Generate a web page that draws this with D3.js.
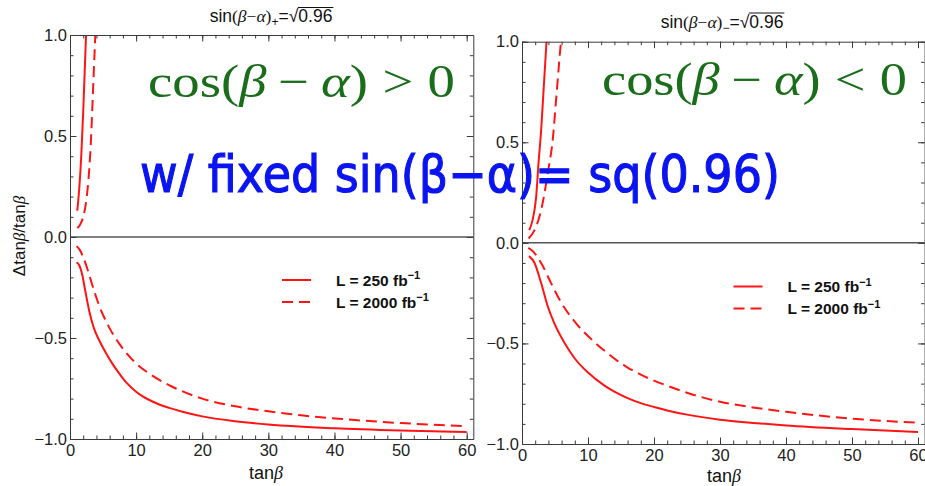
<!DOCTYPE html>
<html>
<head>
<meta charset="utf-8">
<script src="https://cdn.jsdelivr.net/npm/d3@7"></script>
<style>
  html, body { margin: 0; padding: 0; background: #fff; }
  svg { display: block; }
</style>
</head>
<body>
<svg id="chart" width="925" height="486"></svg>
<script>
// ---- data -------------------------------------------------------------
const tanBetaTicks = [0, 10, 20, 30, 40, 50, 60];
const tanBetaMinor = d3.range(0, 62, 2);
const ratioTicks = [-1, -0.5, 0, 0.5, 1];
const ratioMinor = d3.range(-10, 11).map(v => v / 10);
const legendLabels = ["L = 250 fb", "L = 2000 fb"];

// cos(β−α) > 0 : [tanβ, Δtanβ/tanβ]
const posUpper250 = [[1.1, 0.13], [1.4, 0.24], [1.7, 0.4], [2.0, 0.62], [2.2, 0.8], [2.45, 1.02]];
const posUpper2000 = [[1.1, 0.045], [1.5, 0.06], [2.0, 0.1], [2.5, 0.19], [2.9, 0.33], [3.2, 0.5], [3.45, 0.7], [3.7, 0.9], [3.85, 1.02]];
const posLower250 = [[1.0, -0.125], [1.4, -0.14], [1.8, -0.18], [2.3, -0.265], [2.9, -0.365], [3.6, -0.45], [4.4, -0.51], [5.5, -0.578], [6.5, -0.632], [7.5, -0.678], [8.5, -0.72], [10, -0.766], [11, -0.789], [12, -0.807], [13.5, -0.829], [15, -0.846], [17, -0.865], [20, -0.888], [25, -0.912], [30, -0.928], [40, -0.947], [50, -0.958], [60, -0.965]];
const posLower2000 = [[1.0, -0.045], [1.5, -0.065], [2.0, -0.1], [2.6, -0.155], [3.3, -0.23], [4.3, -0.33], [5.8, -0.44], [7.5, -0.53], [9.8, -0.62], [12.4, -0.685], [15.4, -0.74], [20, -0.80], [25, -0.838], [30, -0.863], [35, -0.883], [40, -0.898], [50, -0.921], [60, -0.936]];

// cos(β−α) < 0
const negUpper250 = [[1.1, 0.063], [1.6, 0.113], [2.15, 0.23], [2.5, 0.395], [2.9, 0.56], [3.3, 0.776], [3.75, 1.02]];
const negUpper2000 = [[1.0, 0.022], [1.9, 0.063], [2.9, 0.163], [3.9, 0.345], [4.7, 0.527], [5.2, 0.726], [5.7, 0.925], [5.95, 1.02]];
const negLower250 = [[1.05, -0.066], [1.9, -0.1], [2.9, -0.2], [3.9, -0.315], [4.9, -0.40], [6.5, -0.50], [8, -0.575], [10, -0.645], [12.5, -0.71], [14, -0.74], [16, -0.772], [18, -0.797], [20, -0.816], [22, -0.833], [25, -0.854], [30, -0.879], [35, -0.895], [40, -0.908], [50, -0.926], [60, -0.94]];
const negLower2000 = [[0.95, -0.025], [1.6, -0.04], [2.9, -0.1], [4.4, -0.2], [6, -0.30], [8.2, -0.40], [11.2, -0.50], [13, -0.55], [14.5, -0.588], [16, -0.62], [18, -0.655], [20, -0.685], [22, -0.71], [25, -0.745], [30, -0.79], [35, -0.818], [40, -0.84], [50, -0.874], [60, -0.894]];

// ---- styles -----------------------------------------------------------
const SANS = "'Liberation Sans', Arial, Helvetica, sans-serif";
const SERIF = "'Liberation Serif', 'Times New Roman', serif";
const RED = "#ff1414";
const FRAME = "#3a3a3a";
const DASH = "11,6";

const svg = d3.select("#chart");

// ---- one framed panel ---------------------------------------------------
function drawPanel(cfg) {
  const x = d3.scaleLinear().domain([0, 61]).range([cfg.left, cfg.right]);
  const y = d3.scaleLinear().domain([-1, 1]).range([cfg.bottom, cfg.top]);
  const g = svg.append("g").attr("class", cfg.id);

  const clipId = "clip-" + cfg.id;
  svg.append("defs").append("clipPath").attr("id", clipId)
    .append("rect")
    .attr("x", cfg.left).attr("y", cfg.top)
    .attr("width", cfg.right - cfg.left).attr("height", cfg.bottom - cfg.top);

  // zero line
  g.append("line")
    .attr("x1", cfg.left).attr("x2", cfg.right)
    .attr("y1", y(0)).attr("y2", y(0))
    .attr("stroke", "#000").attr("stroke-width", 1);

  // curves
  const line = d3.line().x(d => x(d[0])).y(d => y(d[1])).curve(d3.curveMonotoneX);
  const curves = g.append("g").attr("clip-path", `url(#${clipId})`);
  cfg.series.forEach(s => {
    curves.append("path")
      .attr("d", line(s.values))
      .attr("fill", "none")
      .attr("stroke", RED)
      .attr("stroke-width", 2)
      .attr("stroke-dasharray", s.dashed ? DASH : null);
  });

  // frame with inward ticks on all four sides
  const makers = [d3.axisBottom, d3.axisTop, d3.axisLeft, d3.axisRight];
  const shifts = [`translate(0,${cfg.bottom})`, `translate(0,${cfg.top})`,
                  `translate(${cfg.left},0)`, `translate(${cfg.right},0)`];
  makers.forEach((make, i) => {
    const isX = i < 2;
    const scale = isX ? x : y;
    const labels = i === 0 || i === 2;

    const minorGen = make(scale)
      .tickValues(isX ? tanBetaMinor : ratioMinor)
      .tickSize(-3.5).tickSizeOuter(0).tickFormat("");
    g.append("g").attr("transform", shifts[i]).call(minorGen)
      .call(s => s.select(".domain").remove())
      .call(s => s.selectAll("line").attr("stroke", FRAME));

    const major = make(scale)
      .tickValues(isX ? tanBetaTicks : ratioTicks)
      .tickSize(-6.5).tickSizeOuter(0)
      .tickPadding(isX ? 5 : 3)
      .tickFormat(labels ? (isX ? d3.format("d") : d3.format(".1f")) : "");
    const ag = g.append("g").attr("transform", shifts[i]).call(major);
    ag.select(".domain").attr("stroke", FRAME).attr("stroke-width", 1);
    ag.selectAll("line").attr("stroke", FRAME);
    ag.selectAll("text")
      .attr("fill", "#222")
      .style("font-family", SANS)
      .style("font-size", "16.5px");
  });

  // legend
  cfg.series.slice(0, 2).forEach((s, i) => {
    const ly = cfg.legendY + i * 22;
    g.append("line")
      .attr("x1", cfg.legendX).attr("x2", cfg.legendX + 29)
      .attr("y1", ly).attr("y2", ly)
      .attr("stroke", RED).attr("stroke-width", 2)
      .attr("stroke-dasharray", s.dashed ? DASH : null);
    const t = g.append("text")
      .attr("x", cfg.legendX + 54).attr("y", ly + 5.5)
      .style("font-family", SANS).style("font-size", "15.5px").style("font-weight", "bold")
      .attr("fill", "#111");
    t.append("tspan").text(legendLabels[i]);
    t.append("tspan").attr("dy", -6.5).style("font-size", "11px").text("−1");
  });

  // title  sin(β−α)± = √0.96
  const fs = 17.5;
  const tg = svg.append("g");
  const t1 = tg.append("text").attr("x", 0).attr("y", 0)
    .style("font-family", SANS).style("font-size", fs + "px").attr("fill", "#111");
  t1.append("tspan").text("sin");
  t1.append("tspan").style("font-family", SERIF).text("(");
  t1.append("tspan").style("font-family", SERIF).style("font-style", "italic").text("β");
  t1.append("tspan").style("font-family", SERIF).text("−");
  t1.append("tspan").style("font-family", SERIF).style("font-style", "italic").text("α");
  t1.append("tspan").style("font-family", SERIF).text(")");
  t1.append("tspan").attr("dy", 4).style("font-size", "12px").text(cfg.sign);
  t1.append("tspan").attr("dy", -4).text("=");
  const w1 = t1.node().getComputedTextLength();
  const t2 = tg.append("text").attr("x", w1).attr("y", 0)
    .style("font-family", SANS).style("font-size", fs + "px").attr("fill", "#111").text("√");
  const w2 = t2.node().getComputedTextLength();
  const t3 = tg.append("text").attr("x", w1 + w2).attr("y", 0)
    .style("font-family", SANS).style("font-size", fs + "px").attr("fill", "#111").text("0.96");
  const w3 = t3.node().getComputedTextLength();
  tg.append("line")
    .attr("x1", w1 + w2 - 0.5).attr("x2", w1 + w2 + w3 + 1)
    .attr("y1", -14.5).attr("y2", -14.5)
    .attr("stroke", "#111").attr("stroke-width", 1);
  const total = w1 + w2 + w3;
  tg.attr("transform", `translate(${cfg.titleX - total / 2},${cfg.titleY})`);

  // x axis title
  const xt = svg.append("text")
    .attr("x", cfg.xTitleX).attr("y", cfg.xTitleY)
    .attr("text-anchor", "middle")
    .style("font-family", SANS).style("font-size", "18px").attr("fill", "#111");
  xt.append("tspan").text("tan");
  xt.append("tspan").style("font-family", SERIF).style("font-style", "italic").text("β");

  return { x, y };
}

drawPanel({
  id: "pos", left: 70, right: 473.3, top: 35, bottom: 439,
  sign: "+", titleX: 271, titleY: 22, xTitleX: 266, xTitleY: 479,
  legendX: 282, legendY: 280,
  series: [
    { values: posLower250, dashed: false },
    { values: posLower2000, dashed: true },
    { values: posUpper250, dashed: false },
    { values: posUpper2000, dashed: true }
  ]
});

drawPanel({
  id: "neg", left: 522, right: 924.6, top: 41.7, bottom: 444,
  sign: "−", titleX: 722, titleY: 27.5, xTitleX: 724, xTitleY: 482,
  legendX: 733.5, legendY: 286.5,
  series: [
    { values: negLower250, dashed: false },
    { values: negLower2000, dashed: true },
    { values: negUpper250, dashed: false },
    { values: negUpper2000, dashed: true }
  ]
});

// y axis title (left panel only)
const yt = svg.append("text")
  .attr("transform", "translate(25,236) rotate(-90)")
  .attr("text-anchor", "middle")
  .style("font-family", SANS).style("font-size", "17px").attr("fill", "#111");
yt.append("tspan").text("Δtan");
yt.append("tspan").style("font-family", SERIF).style("font-style", "italic").text("β");
yt.append("tspan").text("/tan");
yt.append("tspan").style("font-family", SERIF).style("font-style", "italic").text("β");

// ---- annotations --------------------------------------------------------
function mathLabel(x0, baseline, targetWidth, rel) {
  const t = svg.append("text").attr("x", 0).attr("y", 0)
    .style("font-family", SERIF).style("font-size", "46px").attr("fill", "#1a6d1a");
  const parts = [
    { s: "cos(", it: false, gap: 0 },
    { s: "β", it: true, gap: 0 },
    { s: "−", it: false, gap: 10 },
    { s: "α", it: true, gap: 10 },
    { s: ")", it: false, gap: 0 },
    { s: rel, it: false, gap: 12 },
    { s: "0", it: false, gap: 12 }
  ];
  parts.forEach(p => t.append("tspan")
    .attr("dx", p.gap || null)
    .style("font-style", p.it ? "italic" : "normal").text(p.s));
  const bb = t.node().getBBox();
  const sx = targetWidth / bb.width;
  t.attr("transform", `translate(${x0 - bb.x * sx},${baseline}) scale(${sx},1)`);
}
mathLabel(148, 96.5, 307, ">");
mathLabel(602, 95, 305, "<");

const blue = svg.append("text")
  .attr("x", 0).attr("y", 0)
  .style("font-family", "'DejaVu Sans', sans-serif")
  .style("font-size", "52px")
  .attr("fill", "#0a14f0")
  .attr("stroke", "#0a14f0").attr("stroke-width", 1.2)
  .text("w/ fixed sin(β−α)= sq(0.96)");
const bw = blue.node().getComputedTextLength();
blue.attr("transform", `translate(140,192) scale(${640 / bw},1)`);
</script>
</body>
</html>
